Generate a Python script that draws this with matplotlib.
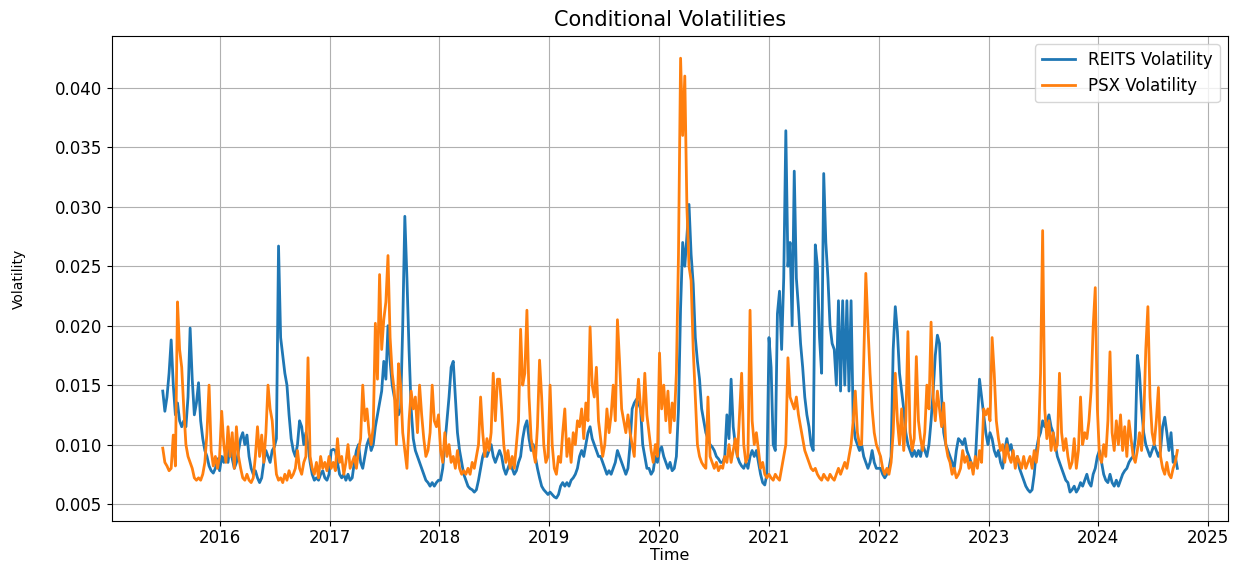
import numpy as np
import pandas as pd
import matplotlib
matplotlib.use("Agg")
import matplotlib.pyplot as plt
from matplotlib.ticker import MultipleLocator

# Weekly conditional volatilities (x 1e-3), one row per calendar year
reits = [
    # 2015 (from late June)
    14.5, 12.8, 14.0, 16.0, 18.8, 15.0, 12.5, 13.5, 12.0, 11.5, 12.0, 11.5, 14.0, 19.8,
    15.5, 12.5, 13.5, 15.2, 12.0, 10.5, 9.5, 9.0, 8.2, 7.8, 7.6, 8.0, 8.8,
    # 2016
    7.8, 9.0, 8.5, 9.5, 8.5, 10.0, 8.8, 8.0, 8.5, 9.5, 10.5, 11.0, 10.0, 10.8, 9.0, 8.0,
    7.5, 7.8, 7.2, 6.8, 7.2, 8.5, 9.5, 9.0, 8.5, 9.5, 9.8, 10.5, 26.7, 19.0, 17.5, 16.0,
    15.0, 12.5, 10.5, 9.5, 9.0, 10.0, 12.0, 11.5, 10.0, 11.0, 10.0, 8.5, 7.5, 7.0, 7.2,
    7.0, 7.5, 7.8, 7.2, 7.0, 7.5,
    # 2017
    9.5, 9.6, 9.5, 8.5, 7.5, 7.2, 7.5, 7.0, 7.5, 7.0, 7.2, 8.5, 9.5, 10.0, 8.5, 8.0, 9.0,
    10.0, 10.5, 9.5, 10.0, 11.5, 12.5, 13.5, 14.5, 17.0, 15.5, 20.0, 17.0, 15.0, 14.0,
    13.5, 12.5, 13.0, 20.0, 29.2, 24.0, 18.0, 13.0, 10.5, 9.5, 9.0, 8.5, 8.0, 7.5, 7.0,
    6.8, 6.5, 6.8, 6.5, 6.8, 7.0,
    # 2018
    7.0, 8.0, 10.0, 12.0, 14.0, 16.5, 17.0, 14.0, 11.0, 9.5, 8.5, 7.5, 7.0, 6.5, 6.3,
    6.2, 6.0, 6.2, 7.0, 8.0, 9.0, 9.5, 9.0, 9.5, 10.0, 9.0, 8.5, 9.0, 9.5, 9.0, 8.0, 7.5,
    8.0, 8.5, 8.0, 7.5, 7.8, 8.5, 9.0, 10.5, 11.5, 12.0, 10.5, 9.5, 10.0, 9.0, 8.0, 7.2,
    6.5, 6.2, 6.0, 5.8,
    # 2019
    6.0, 5.8, 5.6, 5.5, 5.8, 6.5, 6.8, 6.5, 6.8, 6.5, 7.0, 7.2, 7.5, 8.0, 9.0, 9.5, 9.0,
    10.0, 11.0, 11.5, 10.5, 10.0, 9.5, 9.0, 9.0, 8.5, 8.0, 7.5, 7.8, 7.5, 8.0, 8.5, 9.5,
    9.0, 8.5, 8.0, 7.5, 8.0, 10.0, 13.0, 13.5, 13.8, 13.5, 13.0, 10.0, 9.0, 8.0, 8.0, 7.5,
    7.8, 9.0, 8.5,
    # 2020
    9.5, 9.8, 9.0, 8.5, 8.0, 8.5, 7.8, 8.0, 9.0, 13.0, 21.5, 27.0, 25.0, 27.5, 30.2, 26.0,
    23.5, 19.0, 17.0, 15.5, 13.0, 12.0, 11.0, 10.5, 10.0, 9.8, 9.5, 9.0, 8.8, 8.5, 8.5,
    9.0, 12.5, 10.5, 15.5, 11.5, 10.0, 9.0, 8.5, 8.2, 8.0, 8.5, 8.0, 9.0, 9.5, 9.0, 9.5,
    8.5, 7.5, 6.8, 6.6, 7.5,
    # 2021
    19.0, 16.5, 10.0, 9.5, 21.0, 22.9, 18.0, 24.0, 36.4, 25.0, 27.0, 20.0, 33.0, 24.0,
    21.5, 18.5, 16.5, 14.0, 12.5, 11.5, 10.0, 9.5, 26.8, 25.0, 19.0, 16.0, 32.8, 27.0,
    24.0, 20.0, 18.5, 18.0, 15.0, 22.1, 14.5, 22.1, 15.0, 22.1, 14.5, 22.1, 12.0, 10.5,
    10.0, 9.5, 10.0, 9.0, 8.5, 8.0, 8.5, 9.5, 8.5, 8.0, 8.0,
    # 2022
    8.0, 7.5, 7.2, 7.5, 8.0, 9.0, 18.0, 21.6, 19.5, 16.0, 14.5, 13.0, 11.0, 10.0, 9.5,
    9.0, 9.5, 9.0, 9.5, 9.0, 10.0, 9.5, 9.0, 10.0, 12.0, 14.5, 17.5, 19.2, 18.5, 14.0,
    11.0, 10.0, 9.5, 9.0, 8.5, 8.0, 9.5, 10.5, 10.3, 10.0, 10.5, 9.5, 9.0, 8.5, 8.0, 8.5,
    12.0, 15.5, 14.0, 12.5, 11.0, 10.0,
    # 2023
    11.0, 10.5, 9.5, 9.0, 9.5, 8.5, 8.0, 9.5, 10.5, 9.5, 10.0, 9.0, 8.5, 9.0, 8.0, 7.5,
    7.0, 6.5, 6.2, 6.0, 6.2, 7.5, 9.5, 10.5, 11.0, 12.0, 11.5, 12.0, 12.5, 11.5, 11.0,
    10.0, 9.0, 8.5, 8.0, 7.5, 7.0, 6.8, 6.0, 6.2, 6.5, 6.0, 6.3, 6.8, 6.5, 7.0, 7.5, 6.8,
    6.5, 7.5, 8.0, 9.0,
    # 2024 (to mid September)
    9.5, 8.5, 7.5, 7.0, 6.8, 7.5, 6.8, 6.5, 7.0, 6.5, 7.0, 7.5, 7.8, 8.0, 8.5, 8.8, 9.0,
    10.5, 17.5, 16.0, 13.0, 11.0, 10.0, 9.5, 9.0, 9.5, 10.0, 9.5, 9.0, 9.5, 11.5, 12.3,
    11.0, 9.5, 11.0, 8.5, 9.0, 8.0,
]

psx = [
    # 2015 (from late June)
    9.7, 8.5, 8.2, 7.8, 8.0, 10.8, 8.2, 22.0, 18.0, 16.5, 13.0, 10.0, 9.0, 8.5, 8.0, 7.2,
    7.0, 7.2, 7.0, 7.5, 8.5, 11.0, 15.0, 9.5, 8.2, 9.0, 8.0,
    # 2016
    9.0, 12.8, 10.0, 8.5, 11.5, 9.0, 11.0, 8.0, 11.5, 9.0, 8.0, 7.2, 7.0, 7.5, 7.0, 6.8,
    7.2, 9.0, 11.5, 9.0, 10.8, 8.5, 11.0, 15.0, 13.0, 12.0, 9.5, 7.5, 7.0, 7.2, 6.8, 7.5,
    7.0, 7.8, 7.2, 7.5, 8.0, 9.5, 8.0, 7.5, 8.5, 9.0, 17.3, 9.0, 8.0, 7.5, 8.5, 7.2, 9.0,
    8.0, 8.5, 7.8, 9.0,
    # 2017
    8.0, 8.5, 7.8, 10.5, 8.5, 9.0, 7.5, 8.5, 10.0, 8.0, 8.5, 9.0, 8.0, 9.5, 10.5, 15.0,
    12.0, 13.0, 11.0, 10.0, 11.5, 20.2, 15.5, 24.3, 18.0, 20.5, 22.0, 25.9, 19.0, 16.0,
    14.5, 10.0, 16.8, 15.0, 11.0, 9.5, 8.0, 12.0, 14.5, 13.0, 14.0, 11.0, 15.0, 12.5,
    10.5, 9.0, 9.5, 11.0, 15.0, 12.0, 11.5, 12.5,
    # 2018
    9.5, 8.5, 11.0, 9.0, 10.0, 8.5, 9.0, 8.0, 9.5, 8.0, 7.5, 7.8, 7.5, 8.0, 7.5, 8.5, 8.0,
    9.0, 10.0, 14.0, 11.0, 9.0, 10.5, 9.5, 11.0, 16.0, 12.0, 15.5, 15.5, 13.0, 10.0, 8.5,
    9.5, 8.0, 9.0, 8.0, 10.0, 12.0, 19.7, 15.0, 16.0, 21.3, 14.0, 10.5, 9.5, 8.5, 11.5,
    17.1, 14.0, 10.0, 8.5, 9.0,
    # 2019
    15.0, 10.0, 8.0, 7.5, 9.0, 8.5, 11.0, 13.0, 9.0, 10.5, 8.5, 11.0, 10.0, 12.0, 11.5,
    13.0, 10.5, 13.5, 12.0, 19.9, 15.0, 14.0, 16.5, 12.0, 10.5, 9.0, 10.0, 13.0, 11.0,
    12.5, 15.0, 12.0, 20.5, 17.0, 13.0, 12.0, 11.0, 12.5, 11.0, 10.0, 9.0, 13.0, 15.5,
    13.0, 12.0, 16.0, 12.5, 11.0, 9.5, 8.5, 10.0, 9.0,
    # 2020
    17.7, 13.0, 15.0, 12.0, 14.5, 11.0, 13.5, 12.0, 16.0, 26.0, 42.5, 36.0, 41.0, 30.0,
    25.0, 23.8, 18.0, 14.0, 10.0, 9.0, 8.5, 8.2, 8.0, 14.0, 9.0, 8.5, 8.0, 8.5, 7.8, 8.2,
    8.0, 9.0, 8.5, 10.0, 8.5, 9.5, 10.5, 9.0, 12.5, 16.0, 10.0, 8.5, 9.0, 21.3, 12.0,
    10.0, 11.0, 9.5, 8.0, 8.5, 7.5, 7.2,
    # 2021
    7.5, 7.2, 7.0, 7.5, 7.2, 7.0, 8.0, 9.0, 10.0, 17.3, 14.0, 13.5, 13.0, 14.0, 12.5, 11.5,
    10.5, 9.5, 9.0, 8.5, 8.0, 7.8, 8.0, 7.5, 7.2, 7.0, 7.5, 7.2, 7.0, 7.5, 7.2, 7.0, 7.5,
    8.0, 7.5, 8.0, 8.5, 8.0, 9.0, 10.0, 12.0, 14.5, 11.0, 10.0, 10.0, 17.0, 24.4, 20.0,
    16.0, 13.0, 11.0, 10.0, 9.5,
    # 2022
    9.0, 8.0, 7.5, 8.0, 7.5, 8.5, 11.0, 16.0, 12.0, 10.0, 13.0, 9.5, 12.0, 19.5, 11.0, 9.5,
    10.5, 17.4, 12.0, 10.5, 9.5, 11.0, 15.0, 13.0, 20.3, 14.0, 12.0, 14.5, 13.0, 11.5,
    13.5, 10.0, 9.0, 8.5, 7.5, 8.0, 7.2, 7.5, 8.0, 9.5, 8.5, 9.0, 8.0, 8.5, 7.5, 9.0, 8.0,
    9.5, 8.5, 13.0, 12.5, 13.0,
    # 2023
    12.0, 19.0, 16.0, 12.0, 10.5, 9.5, 10.0, 8.5, 10.0, 9.0, 8.5, 9.5, 8.0, 9.0, 8.5, 8.0,
    9.0, 8.0, 8.5, 9.0, 8.0, 9.5, 8.5, 10.0, 16.0, 28.0, 13.0, 10.5, 12.0, 9.5, 11.0, 9.5,
    10.0, 16.0, 11.0, 9.5, 10.5, 9.0, 8.0, 8.5, 10.5, 8.0, 9.5, 14.0, 10.0, 11.0, 10.5,
    12.0, 14.5, 19.9, 23.2, 13.0,
    # 2024 (to mid September)
    9.0, 8.5, 10.0, 9.0, 12.0, 17.8, 11.0, 9.5, 12.0, 10.0, 12.5, 9.5, 11.5, 9.0, 12.0,
    10.5, 9.0, 8.5, 9.5, 11.0, 9.5, 12.0, 18.0, 21.6, 14.0, 11.0, 10.0, 12.0, 14.8, 9.0,
    8.0, 7.5, 8.5, 7.5, 7.2, 8.0, 8.5, 9.5,
]

dates = pd.date_range("2015-06-26", periods=len(reits), freq="W-FRI")
reits_vol = np.array(reits) / 1000
psx_vol = np.array(psx) / 1000

fig = plt.figure(figsize=(12.42, 5.63), dpi=100)
ax = fig.add_axes([0.0902, 0.0746, 0.8986, 0.8615])

ax.plot(dates, reits_vol, color="tab:blue", lw=2.0, label="REITS Volatility")
ax.plot(dates, psx_vol, color="tab:orange", lw=2.0, label="PSX Volatility")

ax.set_title("Conditional Volatilities", fontsize=15, pad=7)
ax.set_xlabel("Time", fontsize=11.5)
ax.set_ylabel("Volatility", fontsize=10)
ax.xaxis.set_label_coords(0.5, -0.056)
ax.yaxis.set_label_coords(-0.077, 0.5)
ax.yaxis.set_major_locator(MultipleLocator(0.005))
ax.tick_params(labelsize=12)
ax.tick_params(axis="x", pad=2.5)
ax.set_ylim(0.00357, 0.04437)
ax.grid(True)
ax.legend(loc="upper right", fontsize=12)

fig.savefig("out.png", dpi=100)
